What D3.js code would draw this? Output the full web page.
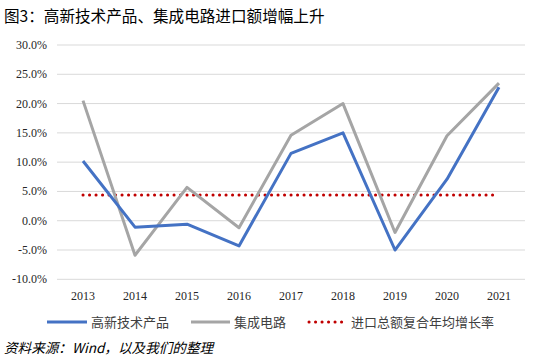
<!DOCTYPE html>
<html>
<head>
<meta charset="utf-8">
<script src="https://cdn.jsdelivr.net/npm/d3@7"></script>
<style>
  body { margin: 0; background: #fff; }
  svg { display: block; }
</style>
</head>
<body>
<div id="chart"></div>
<script>
const years = ["2013", "2014", "2015", "2016", "2017", "2018", "2019", "2020", "2021"]
const hiTech = [10.2, -1.1, -0.6, -4.3, 11.5, 15.0, -5.0, 7.1, 22.8]
const chips = [20.5, -5.9, 5.7, -1.2, 14.6, 20.0, -2.0, 14.5, 23.5]
const cagr = 4.4
const yTicks = [30, 25, 20, 15, 10, 5, 0, -5, -10]
const seriesNames = ["高新技术产品", "集成电路", "进口总额复合年均增长率"]

const width = 546, height = 361
const cjk = "'Noto Sans CJK SC', sans-serif"
const serif = "'Liberation Serif', 'Times New Roman', serif"

const svg = d3.select("#chart").append("svg")
    .attr("width", width)
    .attr("height", height)

svg.append("text")
    .attr("x", 4)
    .attr("y", 22)
    .attr("font-family", cjk)
    .attr("font-size", 15.6)
    .attr("fill", "#000")
    .text("图3：高新技术产品、集成电路进口额增幅上升")

const x = d3.scaleBand().domain(years).range([57, 525])
const y = d3.scaleLinear().domain([-10, 30]).range([279.3, 45])

// grid
svg.append("g")
    .selectAll("line")
    .data(yTicks)
    .join("line")
    .attr("x1", 57)
    .attr("x2", 525)
    .attr("y1", d => y(d))
    .attr("y2", d => y(d))
    .attr("stroke", "#d9d9d9")
    .attr("stroke-width", 1)

svg.append("g")
    .selectAll("text")
    .data(yTicks)
    .join("text")
    .attr("x", 47)
    .attr("y", d => y(d) + 4)
    .attr("text-anchor", "end")
    .attr("font-family", serif)
    .attr("font-size", 12)
    .attr("fill", "#262626")
    .text(d => d.toFixed(1) + "%")

svg.append("g")
    .selectAll("text")
    .data(years)
    .join("text")
    .attr("x", d => x(d) + x.bandwidth() / 2)
    .attr("y", 300)
    .attr("text-anchor", "middle")
    .attr("font-family", serif)
    .attr("font-size", 12)
    .attr("fill", "#262626")
    .text(d => d)

const cx = d => x(d) + x.bandwidth() / 2
const line = d3.line().x((d, i) => cx(years[i])).y(d => y(d))

// cagr dotted line
svg.append("line")
    .attr("x1", cx(years[0]))
    .attr("x2", cx(years[years.length - 1]))
    .attr("y1", y(cagr))
    .attr("y2", y(cagr))
    .attr("stroke", "#c00000")
    .attr("stroke-width", 3)
    .attr("stroke-linecap", "round")
    .attr("stroke-dasharray", "0.1 6.4")

svg.append("path")
    .datum(chips)
    .attr("d", line)
    .attr("fill", "none")
    .attr("stroke", "#a5a5a5")
    .attr("stroke-width", 3)
    .attr("stroke-linejoin", "round")

svg.append("path")
    .datum(hiTech)
    .attr("d", line)
    .attr("fill", "none")
    .attr("stroke", "#4472c4")
    .attr("stroke-width", 3)
    .attr("stroke-linejoin", "round")

// legend
const legend = [
    {name: seriesNames[0], x1: 47, x2: 87, tx: 91, color: "#4472c4", dash: null},
    {name: seriesNames[1], x1: 191, x2: 230, tx: 234, color: "#a5a5a5", dash: null},
    {name: seriesNames[2], x1: 309, x2: 344, tx: 351, color: "#c00000", dash: "0.1 6.4"}
]
const lg = svg.append("g")
lg.selectAll("line")
    .data(legend)
    .join("line")
    .attr("x1", d => d.x1)
    .attr("x2", d => d.x2)
    .attr("y1", 322)
    .attr("y2", 322)
    .attr("stroke", d => d.color)
    .attr("stroke-width", 3)
    .attr("stroke-linecap", d => d.dash ? "round" : "butt")
    .attr("stroke-dasharray", d => d.dash)
lg.selectAll("text")
    .data(legend)
    .join("text")
    .attr("x", d => d.tx)
    .attr("y", 327)
    .attr("font-family", cjk)
    .attr("font-size", 13)
    .attr("fill", "#404040")
    .text(d => d.name)

svg.append("text")
    .attr("x", 4)
    .attr("y", 353)
    .attr("font-family", cjk)
    .attr("font-size", 13.6)
    .attr("font-style", "italic")
    .attr("fill", "#000")
    .text("资料来源：Wind，以及我们的整理")
</script>
</body>
</html>
